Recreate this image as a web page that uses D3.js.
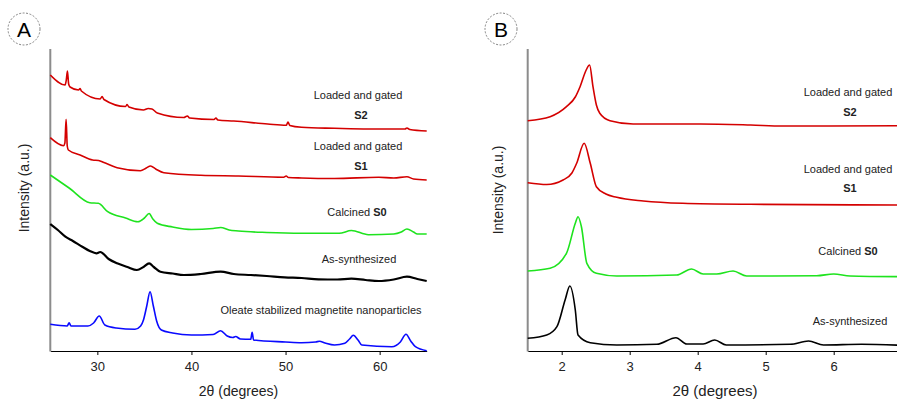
<!DOCTYPE html>
<html>
<head>
<meta charset="utf-8">
<script src="https://cdn.jsdelivr.net/npm/d3@7"></script>
<style>
  body { margin: 0; background: #fff; }
  text { font-family: "Liberation Sans", Arial, sans-serif; }
</style>
</head>
<body>
<div id="chart"></div>
<script>
// Panel A: wide-angle XRD, [2theta, intensity a.u.] (offset curves)
const aS2 = [[25,276],[26.57,266],[26.7,271],[26.82,280],[26.95,267],[27.1,264],[28.0,261],[28.17,262.5],[28.3,260],
  [30.3,252],[30.5,254.5],[30.7,251.5],[33.0,244.5],[33.16,246.5],[33.35,244],[34.9,241],[35.4,242.5],[35.8,242],[36.37,238],
  [39.18,233.5],[39.57,235],[39.8,233],[42.4,231.5],[42.6,233],[42.8,231],[44.5,230],[48.1,227],[50.07,225.7],[50.26,229],
  [50.45,225.5],[51.7,223.7],[55.2,222.7],[58.8,222],[62.7,222],[62.9,223],[63.2,221.5],[65,220]];
const aS1 = [[25,213.3],[26.4,205.3],[26.55,208],[26.68,231.7],[26.8,205],[26.92,201],[28.17,196],[29.5,191],[30.13,190.5],
  [30.7,188.5],[32.1,183.3],[34.58,180.3],[35.2,183],[35.65,185],[36.2,182],[37.07,178.3],[41,175.7],[45,175],[49.8,173.8],
  [50.07,175],[50.3,173.5],[51.7,173],[55.2,172.5],[59.9,173.8],[61.5,173],[62.9,174.3],[63.6,172],[65,171]];
const aS0 = [[25,176],[27,163],[29.2,148.3],[30.1,147.7],[31.1,139.3],[33,133],[34.3,129.3],[35.0,133],[35.5,137.5],[35.9,132],
  [36.37,127.7],[38,124],[40,121.5],[42.3,122.5],[43.1,123.5],[44,121],[45,120],[48,118.5],[51.7,117.7],[55.7,117.7],
  [57,120.5],[58.8,116.3],[61.5,117],[62.3,119],[62.9,122],[63.6,119],[64,117],[65,117]];
const aAs = [[25,127],[25.8,121],[26.6,114.3],[27.4,110],[28.4,104.3],[29.2,100],[29.9,97.7],[30.3,99],[31.2,92],[32.1,87.7],
  [33.2,84],[34.2,81],[34.9,84],[35.5,87.7],[36.0,84],[36.7,79.3],[38,77.5],[39.2,76],[41,77],[43.1,79.3],[44.5,77],
  [46.3,76],[48,75],[49.9,73.7],[51.7,73],[53.5,71.7],[55.5,71.5],[57,72.3],[58.5,71],[59.9,70],[61.5,71.5],[62.9,74.3],
  [64,72],[65,70]];
const aOleate = [[25,26.7],[26.8,25],[27.0,28.3],[27.2,25],[29.0,25],[29.6,28],[30.2,35],[30.8,26],[32.0,23],[34.0,21.7],
  [34.6,25],[34.9,31],[35.25,45],[35.6,59.3],[35.95,45],[36.3,30],[36.8,21],[38,18],[40,16],[42.3,16.5],[43.1,20.3],
  [43.8,15],[44.4,13.5],[44.7,14.5],[45.2,12],[46.3,11.7],[46.45,18.7],[46.6,11],[50,9],[51.7,8.3],[53.2,9],[53.6,9.8],
  [54.2,8],[55.2,6],[56.3,7.7],[56.8,12],[57.2,15.7],[57.7,11],[58.1,6],[61.3,4.3],[62.2,9],[62.8,16.7],[63.3,10],
  [63.8,4.3],[65,0.3]];

// Panel B: low-angle XRD
const bS2 = [[1.5,230.3],[1.83,234.3],[2.07,244.3],[2.2,254],[2.27,264.3],[2.36,281],[2.41,286],[2.46,264.3],[2.51,246],
  [2.56,237.7],[2.71,230.3],[3.05,227],[4.04,227],[4.78,226],[5.25,225],[7,225.3]];
const bS1 = [[1.5,168.3],[1.78,166.5],[2.02,171],[2.15,178],[2.22,187.7],[2.33,207.7],[2.42,187.7],[2.51,164.3],[2.65,157],
  [2.81,153.7],[3.2,150],[3.78,147.7],[4.77,146.7],[7,146]];
const bS0 = [[1.5,80],[1.83,82.7],[2.07,97.7],[2.2,127.7],[2.24,134.3],[2.29,124.3],[2.37,87.7],[2.51,77.7],[2.81,75],
  [3.69,76],[3.91,82],[4.08,77],[4.28,77],[4.52,80],[4.72,75],[5.75,75.3],[6.0,77],[6.24,75],[7,74.3]];
const bAs = [[1.5,12.7],[1.78,16],[1.93,24.3],[2.05,51],[2.12,65],[2.2,41],[2.24,16],[2.42,8.3],[2.81,6],[3.4,6.7],
  [3.68,13.3],[3.84,7],[4.08,7],[4.25,11],[4.42,6],[5.36,6.7],[5.63,10],[5.85,6],[6.41,6.7],[7,5.7]];

const ticksA = [30, 40, 50, 60];
const ticksB = [2, 3, 4, 5, 6];

const W = 897, H = 399;
const svg = d3.select("#chart").append("svg")
  .attr("width", W).attr("height", H);

const yTop = 49, yBot = 351;
const y = d3.scaleLinear().domain([0, 302]).range([yBot, yTop]);

function panel(opts) {
  const x = d3.scaleLinear().domain(opts.domain).range(opts.range);
  const g = svg.append("g");

  // x axis
  g.append("g")
    .attr("transform", `translate(0,${yBot})`)
    .call(d3.axisBottom(x).tickValues(opts.ticks).tickFormat(d3.format("d"))
      .tickSize(4).tickSizeOuter(0).tickPadding(7))
    .call(a => a.select(".domain").attr("stroke", "#000"))
    .call(a => a.selectAll("text").attr("font-size", 13).attr("fill", "#222")
      .style("font-family", "'Liberation Sans', Arial, sans-serif"));

  // gray y axis line
  g.append("line")
    .attr("x1", opts.range[0]).attr("x2", opts.range[0])
    .attr("y1", yTop).attr("y2", yBot + 0.5)
    .attr("stroke", "#8c8c8c").attr("stroke-width", 2);

  const line = d3.line()
    .x(d => x(d[0]))
    .y(d => y(d[1]))
    .curve(d3.curveMonotoneX);

  opts.series.forEach(s => {
    g.append("path")
      .datum(s.data)
      .attr("fill", "none")
      .attr("stroke", s.color)
      .attr("stroke-width", s.w || 1.6)
      .attr("stroke-linejoin", "round")
      .attr("d", line);
  });

  // labels
  opts.labels.forEach(l => {
    const t = g.append("text")
      .attr("x", l.x).attr("y", l.y)
      .attr("text-anchor", "middle")
      .attr("font-size", 11)
      .attr("fill", "#222");
    t.append("tspan").text(l.text);
    if (l.bold) t.append("tspan").attr("font-weight", "bold").text(l.bold);
  });

  // axis titles
  const cx = (opts.range[0] + opts.range[1]) / 2;
  g.append("text")
    .attr("x", opts.titleX || cx).attr("y", 396)
    .attr("text-anchor", "middle")
    .attr("font-size", opts.titleSize)
    .attr("fill", "#222")
    .text("2\u03b8 (degrees)");

  g.append("text")
    .attr("transform", `translate(${opts.yTitleX},${opts.yTitleY}) rotate(-90)`)
    .attr("text-anchor", "middle")
    .attr("font-size", 14)
    .attr("fill", "#222")
    .text("Intensity (a.u.)");

  // circled panel letter
  g.append("circle")
    .attr("cx", opts.letterX).attr("cy", 29).attr("r", 16)
    .attr("fill", "none").attr("stroke", "#666")
    .attr("stroke-width", 0.8).attr("stroke-dasharray", "2,1.5");
  g.append("text")
    .attr("x", opts.letterX).attr("y", 36.5)
    .attr("text-anchor", "middle")
    .attr("font-size", 21)
    .attr("fill", "#000")
    .text(opts.letter);
}

panel({
  domain: [25, 65], range: [50.3, 426.7], ticks: ticksA,
  letter: "A", letterX: 24, yTitleX: 29, yTitleY: 188, titleSize: 14,
  series: [
    { data: aS2, color: "#d40000" },
    { data: aS1, color: "#d40000" },
    { data: aS0, color: "#1ee31e" },
    { data: aAs, color: "#000", w: 2.2 },
    { data: aOleate, color: "#0a0aff" }
  ],
  labels: [
    { x: 358, y: 99, text: "Loaded and gated" },
    { x: 361, y: 119, text: "", bold: "S2" },
    { x: 358, y: 150, text: "Loaded and gated" },
    { x: 361, y: 170, text: "", bold: "S1" },
    { x: 357, y: 216, text: "Calcined ", bold: "S0" },
    { x: 359, y: 263, text: "As-synthesized" },
    { x: 321, y: 314, text: "Oleate stabilized magnetite nanoparticles" }
  ]
});

panel({
  domain: [1.5, 7], range: [527.7, 901.7], ticks: ticksB,
  letter: "B", letterX: 501, yTitleX: 503, yTitleY: 190, titleSize: 15, titleX: 715,
  series: [
    { data: bS2, color: "#d40000" },
    { data: bS1, color: "#d40000" },
    { data: bS0, color: "#1ee31e" },
    { data: bAs, color: "#000" }
  ],
  labels: [
    { x: 848, y: 96, text: "Loaded and gated" },
    { x: 850, y: 116, text: "", bold: "S2" },
    { x: 848, y: 173, text: "Loaded and gated" },
    { x: 850, y: 192, text: "", bold: "S1" },
    { x: 848, y: 255, text: "Calcined ", bold: "S0" },
    { x: 850, y: 325, text: "As-synthesized" }
  ]
});
</script>
</body>
</html>
